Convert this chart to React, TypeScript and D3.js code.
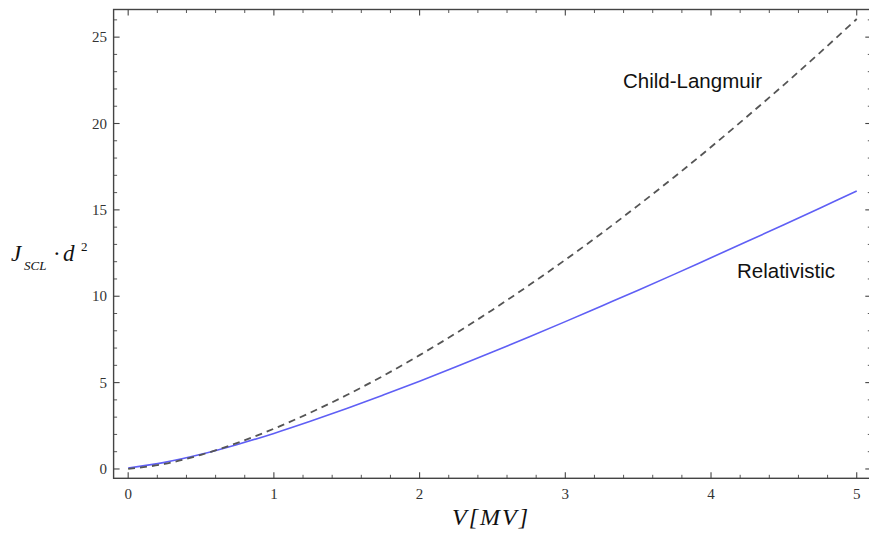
import React from "react";
import * as d3 from "d3";

const voltage = [0, 0.25, 0.5, 0.75, 1, 1.25, 1.5, 1.75, 2, 2.25, 2.5, 2.75, 3, 3.25, 3.5, 3.75, 4, 4.25, 4.5, 4.75, 5];
const childLangmuir = [0, 0.29, 0.82, 1.51, 2.33, 3.26, 4.28, 5.39, 6.59, 7.86, 9.21, 10.63, 12.11, 13.65, 15.26, 16.92, 18.64, 20.42, 22.24, 24.12, 26.05];
const relativistic = [0.06, 0.38, 0.85, 1.42, 2.06, 2.76, 3.5, 4.28, 5.08, 5.92, 6.77, 7.64, 8.53, 9.44, 10.35, 11.28, 12.23, 13.18, 14.14, 15.11, 16.09];
const xMajorTicks = [0, 1, 2, 3, 4, 5];
const yMajorTicks = [0, 5, 10, 15, 20, 25];

const W = 869;
const H = 534;

export default function App() {
  const x = d3.scaleLinear().domain([-0.1, 5.1]).range([113.6, 871.3]);
  const y = d3.scaleLinear().domain([-0.54, 26.6]).range([478.3, 9.5]);

  const xMinor = d3.range(0, 26).map((i) => i * 0.2).filter((v) => Math.abs(v - Math.round(v)) > 1e-6);
  const yMinor = d3.range(0, 27).filter((v) => v % 5 !== 0);

  const line = d3
    .line<number>()
    .x((_, i) => x(voltage[i]))
    .curve(d3.curveCatmullRom);

  const clPath = line.y((d) => y(d))(childLangmuir) || "";
  const relPath = line.y((d) => y(d))(relativistic) || "";

  const [x0, x1] = x.range();
  const [y0, y1] = y.range();
  const axisColor = "#444";
  const majorLen = 6;
  const minorLen = 3.5;
  const serif = "'Liberation Serif', 'Times New Roman', serif";

  return (
    <svg
      width={W}
      height={H}
      style={{ position: "absolute", left: 0, top: 0, background: "#fff" }}
      xmlns="http://www.w3.org/2000/svg"
    >
      <rect x={0} y={0} width={W} height={H} fill="#fff" />
      {/* frame */}
      <rect x={x0} y={y1} width={x1 - x0} height={y0 - y1} fill="none" stroke={axisColor} strokeWidth={1.4} />

      {/* x ticks bottom & top */}
      {xMajorTicks.map((t) => (
        <g key={"xM" + t}>
          <line x1={x(t)} x2={x(t)} y1={y0} y2={y0 - majorLen} stroke={axisColor} strokeWidth={1.1} />
          <line x1={x(t)} x2={x(t)} y1={y1} y2={y1 + majorLen} stroke={axisColor} strokeWidth={1.1} />
          <text x={x(t)} y={499} textAnchor="middle" fontFamily={serif} fontSize={15} fill="#333">
            {t}
          </text>
        </g>
      ))}
      {xMinor.map((t) => (
        <g key={"xm" + t.toFixed(1)}>
          <line x1={x(t)} x2={x(t)} y1={y0} y2={y0 - minorLen} stroke={axisColor} strokeWidth={0.9} />
          <line x1={x(t)} x2={x(t)} y1={y1} y2={y1 + minorLen} stroke={axisColor} strokeWidth={0.9} />
        </g>
      ))}

      {/* y ticks left & right */}
      {yMajorTicks.map((t) => (
        <g key={"yM" + t}>
          <line x1={x0} x2={x0 + majorLen} y1={y(t)} y2={y(t)} stroke={axisColor} strokeWidth={1.1} />
          <line x1={x1} x2={x1 - majorLen} y1={y(t)} y2={y(t)} stroke={axisColor} strokeWidth={1.1} />
          <text x={107} y={y(t) + 5} textAnchor="end" fontFamily={serif} fontSize={15} fill="#333">
            {t}
          </text>
        </g>
      ))}
      {yMinor.map((t) => (
        <g key={"ym" + t}>
          <line x1={x0} x2={x0 + minorLen} y1={y(t)} y2={y(t)} stroke={axisColor} strokeWidth={0.9} />
          <line x1={x1} x2={x1 - minorLen} y1={y(t)} y2={y(t)} stroke={axisColor} strokeWidth={0.9} />
        </g>
      ))}

      {/* curves */}
      <path d={relPath} fill="none" stroke="#5f5ff5" strokeWidth={1.6} />
      <path d={clPath} fill="none" stroke="#555" strokeWidth={1.8} strokeDasharray="7,5" />

      {/* curve labels */}
      <text x={623} y={88} fontFamily="'Liberation Sans', Arial, sans-serif" fontSize={20.5} fill="#111">
        Child-Langmuir
      </text>
      <text x={737} y={278} fontFamily="'Liberation Sans', Arial, sans-serif" fontSize={20.5} fill="#111">
        Relativistic
      </text>

      {/* x axis title */}
      <text x={452} y={525} fontFamily={serif} fontStyle="italic" fontSize={24} letterSpacing={2} fill="#111">
        V[MV]
      </text>

      {/* y axis title */}
      <g fontFamily={serif} fill="#111">
        <text x={11} y={261} fontSize={23} fontStyle="italic">
          J
        </text>
        <text x={24} y={270} fontSize={13} fontStyle="italic">
          SCL
        </text>
        <text x={53} y={261} fontSize={23}>
          ·
        </text>
        <text x={63} y={261} fontSize={23} fontStyle="italic">
          d
        </text>
        <text x={81} y={251} fontSize={13}>
          2
        </text>
      </g>
    </svg>
  );
}
